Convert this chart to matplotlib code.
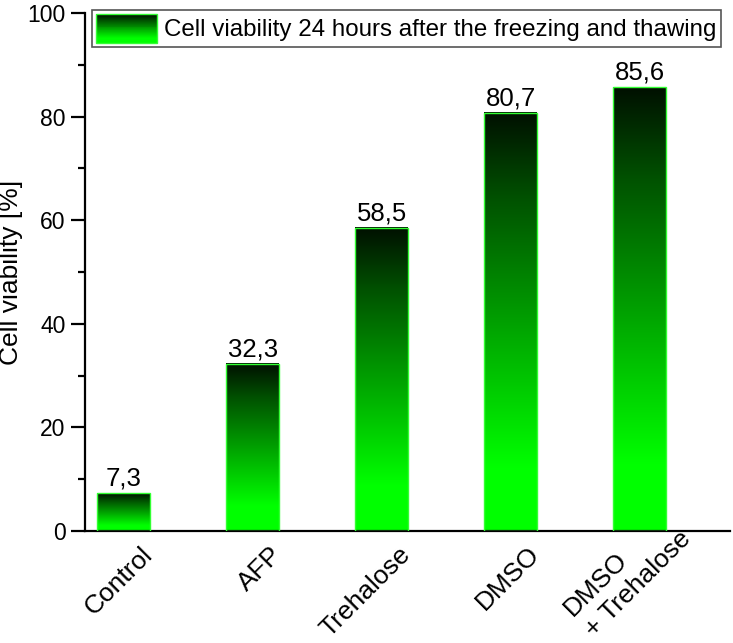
import matplotlib.pyplot as plt
import numpy as np
from matplotlib.colors import LinearSegmentedColormap
from matplotlib.legend_handler import HandlerBase
from matplotlib.patches import Rectangle
from matplotlib.ticker import MultipleLocator
from matplotlib.transforms import ScaledTranslation

plt.rcParams['font.family'] = ['Liberation Sans', 'DejaVu Sans']

# Data
categories = ['Control', 'AFP', 'Trehalose', 'DMSO', 'DMSO\n+ Trehalose']
viability = [7.3, 32.3, 58.5, 80.7, 85.6]
value_labels = ['7,3', '32,3', '58,5', '80,7', '85,6']
legend_label = 'Cell viability 24 hours after the freezing and thawing'

# bright green at the bottom, nearly black at the top
cmap = LinearSegmentedColormap.from_list(
    'grn', [(0, '#00ff00'), (0.15, '#00ff00'), (0.5, '#00a000'), (0.8, '#005000'), (1, '#001000')])
edge = '#33ff33'


class GradientHandler(HandlerBase):
    def create_artists(self, legend, orig_handle, xdescent, ydescent,
                       width, height, fontsize, trans):
        artists = []
        n = 30
        for i in range(n):
            r = Rectangle((-xdescent, -ydescent + height * i / n), width, height / n + 0.3,
                          facecolor=cmap(i / (n - 1)), edgecolor='none', transform=trans)
            artists.append(r)
        artists.append(Rectangle((-xdescent, -ydescent), width, height, facecolor='none',
                                 edgecolor=edge, lw=1, transform=trans))
        return artists


fig = plt.figure(figsize=(7.33, 6.43), dpi=100)
ax = fig.add_axes([0.116, 0.174, 0.88, 0.806])

x = np.arange(len(categories))
width = 0.41
grad = np.linspace(0, 1, 256).reshape(-1, 1)

bars = ax.bar(x, viability, width=width, facecolor='none', edgecolor=edge, lw=1, zorder=3)
for xi, v, lab in zip(x, viability, value_labels):
    ax.imshow(grad, cmap=cmap, aspect='auto', origin='lower',
              extent=(xi - width / 2, xi + width / 2, 0, v), zorder=2)
    ax.text(xi, v + 0.5, lab, ha='center', va='bottom', fontsize=18.5)

ax.set_xlim(-0.3, 4.7)
ax.set_ylim(0, 100)

ax.spines['top'].set_visible(False)
ax.spines['right'].set_visible(False)
for s in ['left', 'bottom']:
    ax.spines[s].set_linewidth(1.6)

ax.yaxis.set_major_locator(MultipleLocator(20))
ax.yaxis.set_minor_locator(MultipleLocator(10))
ax.tick_params(axis='y', which='major', length=10, width=1.6, direction='out',
               labelsize=16.5, pad=4)
ax.tick_params(axis='y', which='minor', length=5, width=1.6, direction='out')
ax.tick_params(axis='x', length=0, labelsize=19, pad=14)

ax.set_xticks(x)
ax.set_xticklabels(categories, rotation=45, ha='right', va='center', rotation_mode='anchor',
                   multialignment='left', linespacing=1.3)
labels = ax.get_xticklabels()
for t in labels[:-1]:
    t.set_transform(t.get_transform() + ScaledTranslation(0.25, 0, fig.dpi_scale_trans))
# two-line label sits higher, like in the original
labels[-1].set_transform(labels[-1].get_transform()
                         + ScaledTranslation(0.37, 0.26, fig.dpi_scale_trans))
ax.set_ylabel('Cell viability [%]', fontsize=19, labelpad=3)

proxy = Rectangle((0, 0), 1, 1)
leg = ax.legend([proxy], [legend_label], handler_map={Rectangle: GradientHandler()},
                loc='upper left', bbox_to_anchor=(0.011, 1.006), fontsize=17.4,
                handlelength=2.5, handleheight=1.45, handletextpad=0.3,
                borderpad=0.18, borderaxespad=0, fancybox=False, edgecolor='#555555',
                framealpha=1)
leg.get_frame().set_linewidth(1.2)

fig.savefig('out.png', dpi=100)
